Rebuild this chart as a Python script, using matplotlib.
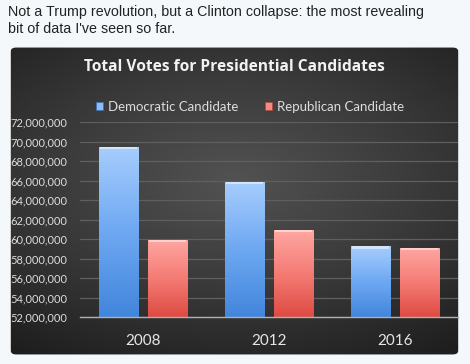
import numpy as np
import matplotlib
matplotlib.use("Agg")
import matplotlib.pyplot as plt
from matplotlib.patches import FancyBboxPatch, Patch
from matplotlib.colors import LinearSegmentedColormap

years = ["2008", "2012", "2016"]
dem_votes = [69498516, 65915795, 59250000]
rep_votes = [59948323, 60933504, 59100000]
series_names = ["Democratic Candidate", "Republican Candidate"]
yticks = list(range(52000000, 72000001, 2000000))

page_bg = "#f5f8fa"
fig = plt.figure(figsize=(4.7, 3.64), dpi=100, facecolor=page_bg)

# caption above the chart
fig.text(8/470, 1 - 16/364, "Not a Trump revolution, but a Clinton collapse: the most revealing",
         family="Liberation Sans", fontsize=10.3, color="#222222", va="baseline")
fig.text(8/470, 1 - 33/364, "bit of data I've seen so far.",
         family="Liberation Sans", fontsize=10.3, color="#222222", va="baseline")

# dark panel with radial shading
pax = fig.add_axes([9/470, 8/364, 451/470, 310/364])
pax.set_axis_off()
yy, xx = np.mgrid[-1:1:200j, -1:1:200j]
r = np.sqrt((xx*0.9)**2 + (yy*1.1 + 0.15)**2)
shade = np.clip(1 - r/1.5, 0, 1)
panel_cmap = LinearSegmentedColormap.from_list("panel", ["#1e1e1e", "#3a3a3a", "#525252"])
img = pax.imshow(shade, cmap=panel_cmap, extent=[0, 1, 0, 1], aspect="auto", vmin=0, vmax=1)
pax.set_xlim(0, 1); pax.set_ylim(0, 1)
frame = FancyBboxPatch((0.004, 0.005), 0.992, 0.99, boxstyle="round,pad=0,rounding_size=0.012",
                       transform=pax.transAxes, facecolor="none", edgecolor="none")
pax.add_patch(frame)
img.set_clip_path(frame)

pax.text(0.5, 1 - 21/310, "Total Votes for Presidential Candidates", transform=pax.transAxes,
         ha="center", va="center", family="Open Sans", fontweight="bold", fontsize=11.2,
         color="#f2f2f2")

# plot area
ax = fig.add_axes([80/470, 47/364, 378/470, 194.7/364])
ax.patch.set_alpha(0)
x = np.arange(len(years))
w = 0.31
off = 0.195
dem_bars = ax.bar(x - off, dem_votes, w, color="#74aef0", edgecolor="#3b6fb0", linewidth=0.6, zorder=3)
rep_bars = ax.bar(x + off, rep_votes, w, color="#f47f78", edgecolor="#b04640", linewidth=0.6, zorder=3)

grad = np.linspace(0, 1, 100).reshape(-1, 1)
blue_cmap = LinearSegmentedColormap.from_list("b", ["#4286dc", "#6ea8f2", "#a6cdfd"])
red_cmap = LinearSegmentedColormap.from_list("r", ["#de4b43", "#f47c75", "#ffa6a1"])
for bars, cm in [(dem_bars, blue_cmap), (rep_bars, red_cmap)]:
    for b in bars:
        x0, y0 = b.get_x(), 52000000
        x1, y1 = x0 + b.get_width(), b.get_height()
        im = ax.imshow(grad, cmap=cm, extent=[x0, x1, y0, y1], aspect="auto", origin="lower", zorder=4)
        im.set_clip_path(b)
        # thin bevel highlight along the top
        ax.fill_between([x0 + 0.01, x1 - 0.01], y1 - 250000, y1, color="white", alpha=0.5,
                        zorder=5, linewidth=0)

ax.set_xlim(-0.5, 2.5)
ax.set_ylim(52000000, 72000000)
ax.set_yticks(yticks)
ax.set_yticklabels([f"{v:,}" for v in yticks])
ax.set_xticks(x)
ax.set_xticklabels(years)
ax.grid(axis="y", color="#5f5f5f", linewidth=0.9, zorder=0)
for s in ["top", "right", "left"]:
    ax.spines[s].set_visible(False)
ax.spines["bottom"].set_color("#b0b0b0")
ax.spines["bottom"].set_linewidth(1.0)
ax.spines["bottom"].set_zorder(6)
ax.tick_params(axis="y", length=0, pad=9, labelsize=8.0, labelcolor="#dcdcdc")
ax.tick_params(axis="x", length=0, pad=12, labelsize=11, labelcolor="#e6e6e6")
for lab in ax.get_yticklabels() + ax.get_xticklabels():
    lab.set_family("Lato")

handles = [Patch(facecolor="#8dbdf6", edgecolor="#3b6fb0", linewidth=0.5),
           Patch(facecolor="#f58a84", edgecolor="#b04640", linewidth=0.5)]
leg = fig.legend(handles, series_names, loc="center", bbox_to_anchor=(250/470, 1 - 107/364),
                 ncol=2, frameon=False, handlelength=0.55, handleheight=0.55, handletextpad=0.35,
                 columnspacing=2.0, prop={"family": "Lato", "size": 9.5})
for t in leg.get_texts():
    t.set_color("#dddddd")

fig.savefig("out.png", dpi=100, facecolor=page_bg)
